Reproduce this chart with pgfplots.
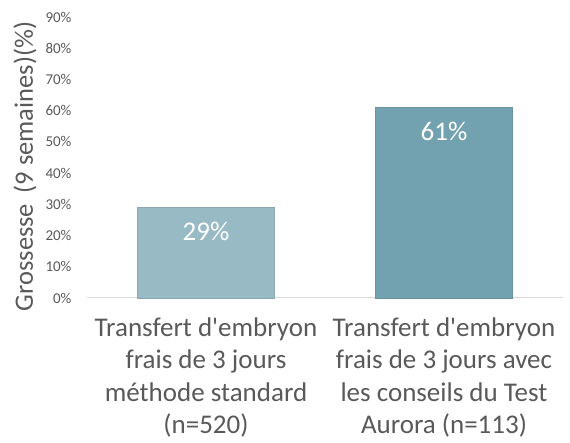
\documentclass[border=0pt]{standalone}
\usepackage{pgfplots}
\pgfplotsset{compat=1.18}
\usepackage{fontspec}
\setmainfont{Carlito}[Ligatures=TeXOff]
\definecolor{txt}{HTML}{595959}
\definecolor{barA}{HTML}{97BAC4}
\definecolor{barB}{HTML}{72A2AF}
\definecolor{axl}{HTML}{D9D9D9}
\begin{document}
\begin{tikzpicture}
\path[use as bounding box] (0,0) rectangle (570pt,443pt);
\begin{axis}[
  at={(87pt,145pt)}, anchor=south west,
  scale only axis, width=476pt, height=281pt,
  xmin=-0.5, xmax=1.5, ymin=0, ymax=90,
  axis y line*=left, axis x line*=bottom,
  y axis line style={draw=none},
  x axis line style={draw=axl, line width=1pt, -},
  ytick={0,10,...,90},
  yticklabel={\pgfmathprintnumber{\tick}\%},
  /pgf/number format/assume math mode=true,
  yticklabel style={font=\fontsize{15}{17}\selectfont, text=txt, xshift=-12pt},
  major tick length=0pt,
  xtick={0,1},
  xticklabels={{Transfert d'embryon\\frais de 3 jours\\méthode standard\\(n=520)},{Transfert d'embryon\\frais de 3 jours avec\\les conseils du Test\\Aurora (n=113)}},
  xticklabel style={align=center, font=\fontsize{27}{32.5}\selectfont, text=txt, yshift=-16pt},
  ylabel={Grossesse\hspace{0.4em}(9 semaines)(\%)},
  ylabel style={at={(axis description cs:-0.13,0.468)}, anchor=center, font=\fontsize{26.5}{30}\selectfont, text=txt},
  ybar, bar width=137pt,
  nodes near coords={\pgfmathprintnumber{\pgfplotspointmeta}\%},
  nodes near coords style={anchor=north, yshift=-11pt, text=white, font=\fontsize{27}{30}\selectfont},
  clip=false,
]
\addplot[fill=barA, draw=barA!85!black!60!barA, bar shift=0pt] coordinates {(0,29)};
\addplot[fill=barB, draw=barB!85!black!60!barB, bar shift=0pt] coordinates {(1,61)};
\end{axis}
\end{tikzpicture}
\end{document}
